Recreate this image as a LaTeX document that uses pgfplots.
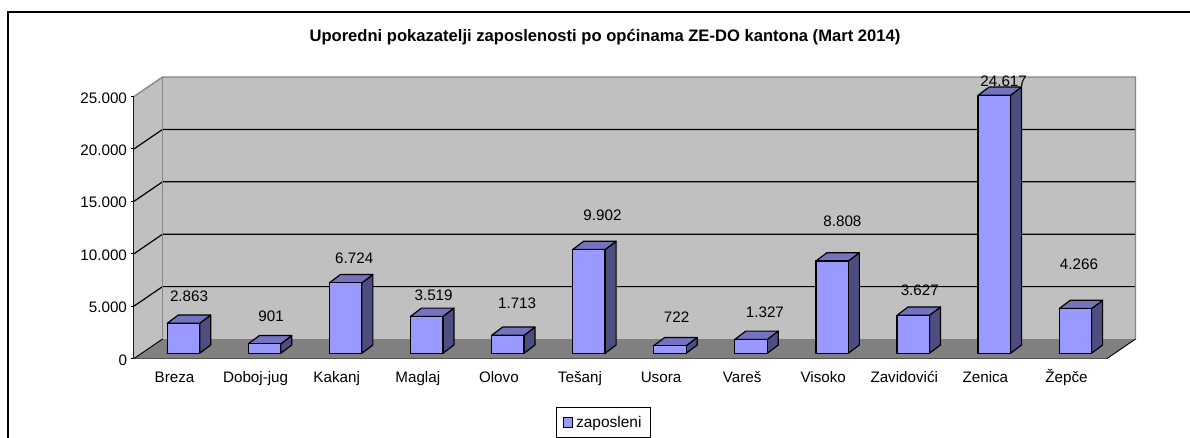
\documentclass[border=0pt]{standalone}
\usepackage{fontspec}
\setmainfont{Liberation Sans}
\usepackage{pgfplots}
\usepackage{pgfplotstable}
\pgfplotsset{compat=1.18}
\definecolor{barfront}{HTML}{9999FF}
\definecolor{bartop}{HTML}{7373BF}
\definecolor{barside}{HTML}{4D4D80}
\definecolor{wallgray}{HTML}{C0C0C0}
\definecolor{floorgray}{HTML}{808080}
\definecolor{edgegray}{HTML}{868686}
\pgfplotstableread{
u s o
.41 0 0
.81 0 0
.81 1 0
.41 1 0
.41 0 0
}\facefront
\pgfplotstableread{
u s o
.41 1 0
.81 1 0
.946 1 790
.546 1 790
.41 1 0
}\facetop
\pgfplotstableread{
u s o
.81 0 0
.946 0 790
.946 1 790
.81 1 0
.81 0 0
}\faceside
\pgfplotstableread{
lx ly lab
0.679 5897 2.863
1.691 3989 901
2.716 9561 6.724
3.695 6059 3.519
4.725 5267 1.713
5.778 13693 9.902
6.691 3989 722
7.781 4437 1.327
8.737 13120 8.808
9.691 6536 3.627
10.725 26412 24.617
11.654 9017 4.266
}\labels
\newcommand{\cuboid}[2]{%
  \addplot[forget plot,draw=black,fill=barside,line width=.9pt,line join=round,line cap=round]
    table[x expr={#1+\thisrow{u}},y expr={500+\thisrow{s}*#2+\thisrow{o}}]{\faceside};
  \addplot[forget plot,draw=black,fill=bartop,line width=.9pt,line join=round,line cap=round]
    table[x expr={#1+\thisrow{u}},y expr={500+\thisrow{s}*#2+\thisrow{o}}]{\facetop};
  \addplot[forget plot,draw=black,fill=barfront,line width=.9pt,line join=round,line cap=round]
    table[x expr={#1+\thisrow{u}},y expr={500+\thisrow{s}*#2+\thisrow{o}}]{\facefront};
}
\begin{document}
\begin{tikzpicture}
\path[use as bounding box] (0pt,0pt) rectangle (892.5pt,328.5pt);
\draw[line width=1pt,black] (6pt,0pt) -- (6pt,319.6pt) -- (892.5pt,319.6pt);
\begin{axis}[
  at={(100.5pt,59.6pt)},anchor=origin,
  scale only axis,width=729.75pt,height=196.5pt,
  xmin=0,xmax=12,ymin=0,ymax=25000,
  clip=false,
  axis lines=left,
  axis line style={-,line width=.9pt,black},
  tick align=outside,
  tick style={black,line width=.8pt},
  major tick length=2.25pt,
  ytick={0,5000,10000,15000,20000,25000},
  scaled y ticks=false,
  /pgf/number format/.cd,1000 sep={.},assume math mode=true,
  /pgfplots/.cd,
  xtick={0.5,1.5,2.5,3.5,4.5,5.5,6.5,7.5,8.5,9.5,10.5,11.5},
  xticklabels={Breza,Doboj-jug,Kakanj,Maglaj,Olovo,Tešanj,Usora,Vareš,Visoko,Zavidovići,Zenica,Žepče},
  x tick style={draw=none},
  minor xtick={0,1,2,3,4,5,6,7,8,9,10,11,12},
  minor tick length=3pt,
  minor tick style={black,line width=.8pt},
  x tick label style={font=\fontsize{11.4}{13}\selectfont,yshift=-15.5pt,anchor=base,text height=8pt},
  y tick label style={font=\fontsize{11.4}{13}\selectfont,xshift=0.5pt,yshift=-1pt},
  title={\bfseries Uporedni pokazatelji zaposlenosti po općinama ZE-DO kantona (Mart 2014)},
  title style={font=\fontsize{12.44}{14}\selectfont,at={(rel axis cs:0.484,1.1965)},anchor=center,inner sep=0pt,yshift=0pt},
  legend style={at={(rel axis cs:0.4825,-0.2443)},anchor=center,draw=black,line width=.8pt,
    font=\fontsize{11.6}{13}\selectfont,inner xsep=4.6pt,inner ysep=4.2pt},
]
% walls and floor
\addplot[forget plot,draw=none,fill=wallgray] coordinates {(0.352,1861) (12.352,1861) (12.352,26861) (0.352,26861)};
\addplot[forget plot,draw=none,fill=wallgray] coordinates {(0,0) (0.352,1861) (0.352,26861) (0,25000)};
\addplot[forget plot,draw=none,fill=floorgray] coordinates {(0,0) (12,0) (12.352,1861) (0.352,1861)};
% gridlines
\addplot[forget plot,black,line width=.9pt] coordinates {(0,5000) (0.352,6861) (12.352,6861)};
\addplot[forget plot,black,line width=.9pt] coordinates {(0,10000) (0.352,11861) (12.352,11861)};
\addplot[forget plot,black,line width=.9pt] coordinates {(0,15000) (0.352,16861) (12.352,16861)};
\addplot[forget plot,black,line width=.9pt] coordinates {(0,20000) (0.352,21861) (12.352,21861)};
% wall edges
\addplot[forget plot,edgegray,line width=1pt] coordinates {(0,25000) (0.352,26861) (12.352,26861) (12.352,1861)};
\addplot[forget plot,edgegray,line width=1pt] coordinates {(0.352,1861) (0.352,26861)};
\addplot[forget plot,black,line width=.7pt] coordinates {(0,0) (0.352,1861)};
\addplot[forget plot,black,line width=.7pt] coordinates {(12,0) (12.352,1861)};
% bars: category position, value
\cuboid{0}{2863}
\cuboid{1}{901}
\cuboid{2}{6724}
\cuboid{3}{3519}
\cuboid{4}{1713}
\cuboid{5}{9902}
\cuboid{6}{722}
\cuboid{7}{1327}
\cuboid{8}{8808}
\cuboid{9}{3627}
\cuboid{10}{24617}
\cuboid{11}{4266}
% value labels
\addplot[forget plot,draw=none,mark=none,point meta=explicit symbolic,
  nodes near coords,
  nodes near coords style={anchor=center,inner sep=0pt,font=\fontsize{11.4}{13}\selectfont}]
  table[x=lx,y=ly,meta=lab]{\labels};
\addlegendimage{legend image code/.code={\draw[draw=black,fill=barfront,line width=.8pt] (0pt,-3.6pt) rectangle (7.2pt,3.6pt);}}
\addlegendentry{zaposleni}
\end{axis}
\end{tikzpicture}
\end{document}
